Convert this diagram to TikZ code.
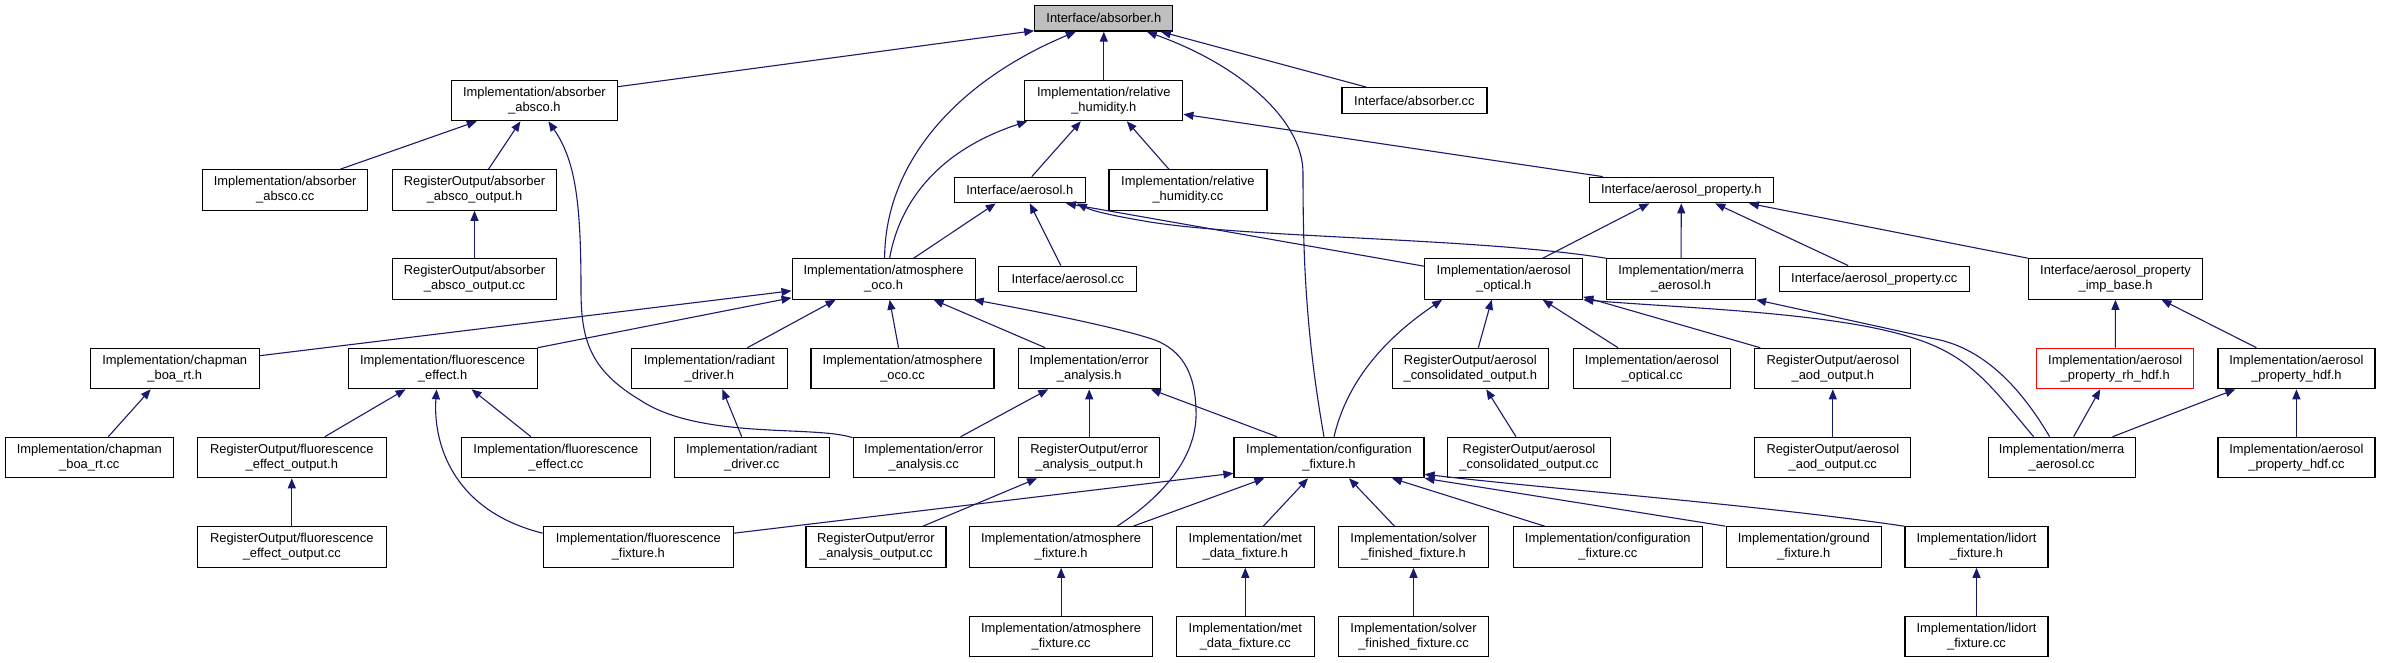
\documentclass[tikz,border=0pt]{standalone}
\usepackage{fontspec}
\setmainfont{Liberation Sans}
\usetikzlibrary{arrows.meta}
\definecolor{edgeblue}{RGB}{25,25,112}
\begin{document}
\begin{tikzpicture}[x=1pt,y=-1pt,
  box/.style={draw=black, line width=1.2pt, rectangle, inner xsep=2pt, inner ysep=0pt,
     align=center, font=\fontsize{12.9}{15}\selectfont, minimum height=40.4pt},
  box1/.style={box, minimum height=25.6pt},
  root/.style={box1, fill=black!25},
  redbox/.style={box, draw=red},
  dep/.style={draw=edgeblue, line width=1.1pt, -{Triangle[length=10pt,width=8pt]}}]
\fill[white] (0,0) rectangle (2381,663);
\useasboundingbox (0,0) rectangle (2381,663);
% row 0
\node[root, minimum width=138pt] (absorber_h) at (1103.8,18.3) {Interface/absorber.h};
% row 1
\node[box, minimum width=166pt] (absco_h) at (534.4,100.5) {Implementation/absorber\\\_absco.h};
\node[box, minimum width=158pt] (relhum_h) at (1103.8,100.5) {Implementation/relative\\\_humidity.h};
\node[box1, minimum width=145pt] (absorber_cc) at (1414.4,100.5) {Interface/absorber.cc};
% row 2
\node[box, minimum width=165pt] (absco_cc) at (285.2,190) {Implementation/absorber\\\_absco.cc};
\node[box, minimum width=164pt] (absco_out_h) at (474.5,190) {RegisterOutput/absorber\\\_absco\_output.h};
\node[box1, minimum width=131pt] (aerosol_h) at (1019.8,190) {Interface/aerosol.h};
\node[box, minimum width=158pt] (relhum_cc) at (1187.9,190) {Implementation/relative\\\_humidity.cc};
\node[box1, minimum width=184pt] (aerprop_h) at (1681.3,190) {Interface/aerosol\_property.h};
% row 3
\node[box, minimum width=164pt] (absco_out_cc) at (474.5,279) {RegisterOutput/absorber\\\_absco\_output.cc};
\node[box, minimum width=183pt] (atmos_h) at (883.6,279) {Implementation/atmosphere\\\_oco.h};
\node[box1, minimum width=138pt] (aerosol_cc) at (1067.8,279) {Interface/aerosol.cc};
\node[box, minimum width=158pt] (aer_opt_h) at (1503.7,279) {Implementation/aerosol\\\_optical.h};
\node[box, minimum width=149pt] (merra_h) at (1681,279) {Implementation/merra\\\_aerosol.h};
\node[box1, minimum width=190pt] (aerprop_cc) at (1874.2,279) {Interface/aerosol\_property.cc};
\node[box, minimum width=174pt] (impbase_h) at (2115.5,279) {Interface/aerosol\_property\\\_imp\_base.h};
% row 4
\node[box, minimum width=169pt] (chapman_h) at (174.7,368.5) {Implementation/chapman\\\_boa\_rt.h};
\node[box, minimum width=189pt] (fluor_h) at (442.6,368.5) {Implementation/fluorescence\\\_effect.h};
\node[box, minimum width=156pt] (radiant_h) at (709.4,368.5) {Implementation/radiant\\\_driver.h};
\node[box, minimum width=183pt] (atmos_cc) at (902.5,368.5) {Implementation/atmosphere\\\_oco.cc};
\node[box, minimum width=142pt] (err_h) at (1089.2,368.5) {Implementation/error\\\_analysis.h};
\node[box, minimum width=156pt] (aer_cons_h) at (1470.3,368.5) {RegisterOutput/aerosol\\\_consolidated\_output.h};
\node[box, minimum width=157pt] (aer_opt_cc) at (1652,368.5) {Implementation/aerosol\\\_optical.cc};
\node[box, minimum width=156pt] (aod_h) at (1832.8,368.5) {RegisterOutput/aerosol\\\_aod\_output.h};
\node[redbox, minimum width=157pt] (rh_hdf_h) at (2115.2,368.5) {Implementation/aerosol\\\_property\_rh\_hdf.h};
\node[box, minimum width=157pt] (hdf_h) at (2296.4,368.5) {Implementation/aerosol\\\_property\_hdf.h};
% row 5
\node[box, minimum width=168pt] (chapman_cc) at (89.3,457.5) {Implementation/chapman\\\_boa\_rt.cc};
\node[box, minimum width=189pt] (fluor_out_h) at (291.8,457.5) {RegisterOutput/fluorescence\\\_effect\_output.h};
\node[box, minimum width=189pt] (fluor_cc) at (555.9,457.5) {Implementation/fluorescence\\\_effect.cc};
\node[box, minimum width=155pt] (radiant_cc) at (751.7,457.5) {Implementation/radiant\\\_driver.cc};
\node[box, minimum width=141pt] (err_cc) at (923.7,457.5) {Implementation/error\\\_analysis.cc};
\node[box, minimum width=141pt] (err_out_h) at (1089.2,457.5) {RegisterOutput/error\\\_analysis\_output.h};
\node[box, minimum width=190pt] (config_h) at (1329,457.5) {Implementation/configuration\\\_fixture.h};
\node[box, minimum width=163pt] (aer_cons_cc) at (1529,457.5) {RegisterOutput/aerosol\\\_consolidated\_output.cc};
\node[box, minimum width=156pt] (aod_cc) at (1832.8,457.5) {RegisterOutput/aerosol\\\_aod\_output.cc};
\node[box, minimum width=147pt] (merra_cc) at (2061.6,457.5) {Implementation/merra\\\_aerosol.cc};
\node[box, minimum width=157pt] (hdf_cc) at (2296.4,457.5) {Implementation/aerosol\\\_property\_hdf.cc};
% row 6
\node[box, minimum width=189pt] (fluor_out_cc) at (291.8,547) {RegisterOutput/fluorescence\\\_effect\_output.cc};
\node[box, minimum width=190pt] (fluor_fix_h) at (638.3,547) {Implementation/fluorescence\\\_fixture.h};
\node[box, minimum width=140pt] (err_out_cc) at (875.9,547) {RegisterOutput/error\\\_analysis\_output.cc};
\node[box, minimum width=183pt] (atmos_fix_h) at (1061.1,547) {Implementation/atmosphere\\\_fixture.h};
\node[box, minimum width=138pt] (met_h) at (1245.3,547) {Implementation/met\\\_data\_fixture.h};
\node[box, minimum width=150pt] (solver_h) at (1413.5,547) {Implementation/solver\\\_finished\_fixture.h};
\node[box, minimum width=189pt] (config_cc) at (1607.8,547) {Implementation/configuration\\\_fixture.cc};
\node[box, minimum width=155pt] (ground_h) at (1803.7,547) {Implementation/ground\\\_fixture.h};
\node[box, minimum width=143pt] (lidort_h) at (1976.5,547) {Implementation/lidort\\\_fixture.h};
% row 7
\node[box, minimum width=183pt] (atmos_fix_cc) at (1061.1,636.5) {Implementation/atmosphere\\\_fixture.cc};
\node[box, minimum width=138pt] (met_cc) at (1245.3,636.5) {Implementation/met\\\_data\_fixture.cc};
\node[box, minimum width=150pt] (solver_cc) at (1413.5,636.5) {Implementation/solver\\\_finished\_fixture.cc};
\node[box, minimum width=143pt] (lidort_cc) at (1976.5,636.5) {Implementation/lidort\\\_fixture.cc};
% edges into absorber_h
\draw[dep] ([yshift=-7pt]absco_h.north east) -- ([yshift=1pt]absorber_h.south west);
\draw[dep] ([xshift=1pt]atmos_h.north) .. controls (885,160) and (960,80) .. ([xshift=-28pt]absorber_h.south);
\draw[dep] (relhum_h) -- (absorber_h);
\draw[dep] ([xshift=-5pt]config_h.north) .. controls (1305,330) and (1303,250) .. (1303,173) .. controls (1303,120) and (1240,65) .. ([xshift=43pt]absorber_h.south);
\draw[dep] ([xshift=25pt]absorber_cc.north west) -- ([xshift=57pt]absorber_h.south);
% relhum_h
\draw[dep] ([xshift=12pt]aerosol_h.north) -- ([xshift=-23pt]relhum_h.south);
\draw[dep] ([xshift=6pt]atmos_h.north) .. controls (900,200) and (940,150) .. ([xshift=3pt]relhum_h.south west);
\draw[dep] ([xshift=-19pt]relhum_cc.north) -- ([xshift=23pt]relhum_h.south);
\draw[dep] ([xshift=14pt]aerprop_h.north west) -- ([yshift=7pt]relhum_h.south east);
% absco_h
\draw[dep] ([xshift=-28pt]absco_cc.north east) -- ([xshift=26pt]absco_h.south west);
\draw[dep] ([xshift=14pt]absco_out_h.north) -- ([xshift=-14pt]absco_h.south);
\draw[dep] ([yshift=-1pt]err_cc.north west) .. controls (815,425) and (700,440) .. (640,400) .. controls (590,370) and (581,340) .. (581,290) .. controls (581,200) and (575,160) .. ([xshift=14pt]absco_h.south);
\draw[dep] (absco_out_cc) -- (absco_out_h);
% aerosol_h
\draw[dep] ([xshift=30pt]atmos_h.north) -- ([xshift=42pt]aerosol_h.south west);
\draw[dep] ([xshift=-7pt]aerosol_cc.north) -- ([xshift=10pt]aerosol_h.south);
\draw[dep] ([yshift=-8pt]aer_opt_h.north west) -- ([xshift=-20pt]aerosol_h.south east);
\draw[dep] (merra_h.north west) .. controls (1480,238) and (1250,238) .. (1150,222) .. controls (1120,217) and (1095,212) .. ([xshift=-9pt]aerosol_h.south east);
% aerprop_h
\draw[dep] ([xshift=39pt]aer_opt_h.north) -- ([xshift=-32pt]aerprop_h.south);
\draw[dep] (merra_h) -- (aerprop_h);
\draw[dep] ([xshift=-26pt]aerprop_cc.north) -- ([xshift=34pt]aerprop_h.south);
\draw[dep] (impbase_h.north west) -- ([xshift=-25pt]aerprop_h.south east);
% atmos_h
\draw[dep] ([yshift=-8pt]chapman_h.north east) -- ([yshift=9pt]atmos_h.south west);
\draw[dep] (fluor_h.north east) -- ([yshift=2pt]atmos_h.south west);
\draw[dep] ([xshift=38pt]radiant_h.north) -- ([xshift=-48pt]atmos_h.south);
\draw[dep] ([xshift=-4pt]atmos_cc.north) -- ([xshift=6pt]atmos_h.south);
\draw[dep] ([xshift=-44pt]err_h.north) -- ([xshift=50pt]atmos_h.south);
\draw[dep] ([xshift=56pt]atmos_fix_h.north) .. controls (1165,495) and (1198,455) .. (1196,410) .. controls (1195,370) and (1180,350) .. (1155,340) .. controls (1120,328) and (1040,312) .. ([xshift=-2pt]atmos_h.south east);
% aer_opt_h
\draw[dep] ([xshift=5pt]config_h.north) .. controls (1345,390) and (1375,345) .. ([xshift=18pt]aer_opt_h.south west);
\draw[dep] ([xshift=8pt]aer_cons_h.north) -- ([xshift=-12pt]aer_opt_h.south);
\draw[dep] ([xshift=-34pt]aer_opt_cc.north) -- ([xshift=39pt]aer_opt_h.south);
\draw[dep] ([xshift=6pt]aod_h.north west) -- ([yshift=3pt]aer_opt_h.south east);
\draw[dep] ([xshift=-28pt]merra_cc.north) .. controls (1990,385) and (1970,355) .. (1910,337) .. controls (1830,312) and (1680,308) .. (aer_opt_h.south east);
\draw[dep] ([xshift=-12pt]merra_cc.north) .. controls (2025,395) and (1990,352) .. (1940,340) -- (merra_h.south east);
% impbase_h, rh_hdf_h, hdf_h
\draw[dep] (rh_hdf_h) -- (impbase_h);
\draw[dep] ([xshift=-40pt]hdf_h.north) -- ([xshift=46pt]impbase_h.south);
\draw[dep] ([xshift=12pt]merra_cc.north) -- ([xshift=-15pt]rh_hdf_h.south);
\draw[dep] ([xshift=51pt]merra_cc.north) -- ([xshift=18pt]hdf_h.south west);
\draw[dep] (hdf_cc) -- (hdf_h);
% row 4 parents
\draw[dep] ([xshift=19pt]chapman_cc.north) -- ([xshift=-24pt]chapman_h.south);
\draw[dep] ([xshift=33pt]fluor_out_h.north) -- ([xshift=-37pt]fluor_h.south);
\draw[dep] ([xshift=-25pt]fluor_cc.north) -- ([xshift=29pt]fluor_h.south);
\draw[dep] ([yshift=-7pt]fluor_fix_h.north west) .. controls (450,510) and (433,440) .. ([xshift=-6pt]fluor_h.south);
\draw[dep] (fluor_out_cc) -- (fluor_out_h);
\draw[dep] ([xshift=-10pt]radiant_cc.north) -- ([xshift=13pt]radiant_h.south);
\draw[dep] ([xshift=37pt]err_cc.north) -- ([xshift=-41pt]err_h.south);
\draw[dep] (err_out_h) -- (err_h);
\draw[dep] ([xshift=-52pt]config_h.north) -- ([xshift=-10pt]err_h.south east);
\draw[dep] ([xshift=47pt]err_out_cc.north) -- ([xshift=19pt]err_out_h.south west);
\draw[dep] ([xshift=-13pt]aer_cons_cc.north) -- ([xshift=16pt]aer_cons_h.south);
\draw[dep] (aod_cc) -- (aod_h);
% config_h
\draw[dep] ([yshift=-7pt]fluor_fix_h.north east) -- ([yshift=5pt]config_h.south west);
\draw[dep] ([xshift=-20pt]atmos_fix_h.north east) -- ([xshift=31pt]config_h.south west);
\draw[dep] ([xshift=18pt]met_h.north) -- ([xshift=-21pt]config_h.south);
\draw[dep] ([xshift=-19pt]solver_h.north) -- ([xshift=20pt]config_h.south);
\draw[dep] ([xshift=32pt]config_cc.north west) -- ([xshift=63pt]config_h.south);
\draw[dep] (ground_h.north west) -- (config_h.south east);
\draw[dep] (lidort_h.north west) .. controls (1760,505) and (1560,490) .. ([yshift=4pt]config_h.south east);
% bottom row
\draw[dep] (atmos_fix_cc) -- (atmos_fix_h);
\draw[dep] (met_cc) -- (met_h);
\draw[dep] (solver_cc) -- (solver_h);
\draw[dep] (lidort_cc) -- (lidort_h);
\end{tikzpicture}
\end{document}
